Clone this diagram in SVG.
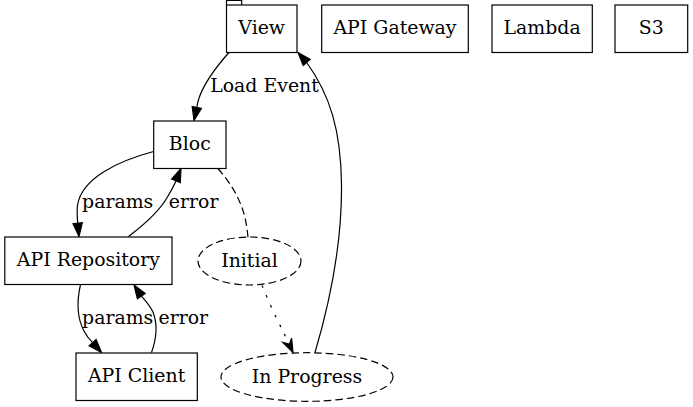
<svg xmlns="http://www.w3.org/2000/svg" width="693" height="407" viewBox="0 0 693 407">
<style>
text{font-family:"DejaVu Serif","Liberation Serif",serif;font-size:18.9px;fill:#000}
.n text{text-anchor:middle}
.box{fill:#fff;stroke:#000;stroke-width:1.2}
.dash{fill:none;stroke:#000;stroke-width:1.2;stroke-dasharray:7.5,4}
.e{fill:none;stroke:#000;stroke-width:1.2}
.ah{fill:#000;stroke:#000;stroke-width:1.2}
.lbl{text-anchor:middle}
</style>
<rect width="693" height="407" fill="#fff"/>
<g id="connectors">
<path class="e" d="M229,52.5 C216,67 204,84 199,98 C198,101 197.3,104 196.8,107.5"/>
<polygon class="ah" points="194,120.5 201.4,108.5 192.2,106.5"/>
<text class="lbl" x="264.5" y="92">Load Event</text>
<path class="e" d="M153.5,151.5 C118,161 82,178 77.5,205 C76.8,211 77.2,217 77.7,223.3"/>
<polygon class="ah" points="79,236.5 82.3,222.8 73,223.8"/>
<text class="lbl" x="117.7" y="208">params</text>
<path class="e" d="M128.5,236.5 C145,224 160,211 168,196 C171,191 174,186 176,180.8"/>
<polygon class="ah" points="181,168.5 180.3,182.6 171.6,179"/>
<text class="lbl" x="193.6" y="208">error</text>
<path class="e" d="M80.5,284.5 C77,300 77,318 84,331 C86,335 89,339 92.6,342.6"/>
<polygon class="ah" points="101.5,352.5 96.1,339.5 89.1,345.8"/>
<text class="lbl" x="117.7" y="324">params</text>
<path class="e" d="M151.5,352.5 C156,340 158,325 153,312 C150,306 146,301 141.3,296.1"/>
<polygon class="ah" points="134,285 145.2,293.5 137.4,298.7"/>
<text class="lbl" x="183.3" y="324">error</text>
<path class="dash" d="M218,168.5 C228,180 236,192 241,205 C245,215 247,226 248,237.5"/>
<path class="e" stroke-dasharray="2.67,8" d="M262,285.5 C268,300 276,318 282,329 C284,334 286,337 288.5,343"/>
<polygon class="ah" points="293,352.5 291.6,338.3 289.3,344.2 282.8,342.4"/>
<path class="e" d="M315,352.5 C332,295 342,240 341.5,185 C341,130 330,95 306.7,62.5"/>
<polygon class="ah" points="298,52.5 310.2,59.4 303.2,65.6"/>
</g>
<g id="View" class="n">
<polyline fill="none" stroke="#000" stroke-width="1.2" points="226.5,5 226.5,0.5 241.7,0.5 241.7,5"/>
<rect class="box" x="226.5" y="5" width="70.5" height="47.5"/>
<text x="261.7" y="34">View</text>
</g>
<g id="APIGateway" class="n">
<rect class="box" x="321.7" y="5" width="146.6" height="47.5"/>
<text x="395" y="34">API Gateway</text>
</g>
<g id="Lambda" class="n">
<rect class="box" x="492" y="5" width="100.3" height="47.5"/>
<text x="542.1" y="34">Lambda</text>
</g>
<g id="S3" class="n">
<rect class="box" x="615" y="5" width="72.7" height="47.5"/>
<text x="651.3" y="34">S3</text>
</g>
<g id="Bloc" class="n">
<rect class="box" x="153.7" y="121" width="72.3" height="47.5"/>
<text x="189.8" y="150">Bloc</text>
</g>
<g id="APIRepository" class="n">
<rect class="box" x="4.8" y="237" width="167.2" height="47.5"/>
<text x="88.4" y="266">API Repository</text>
</g>
<g id="APIClient" class="n">
<rect class="box" x="76" y="353" width="121.3" height="47.5"/>
<text x="136.6" y="382">API Client</text>
</g>
<g id="Initial" class="n">
<ellipse class="dash" cx="249.5" cy="261" rx="51.5" ry="24"/>
<text x="249.5" y="266.5">Initial</text>
</g>
<g id="InProgress" class="n">
<ellipse class="dash" cx="307" cy="377" rx="86" ry="24.3"/>
<text x="307" y="382.5">In Progress</text>
</g>
</svg>
